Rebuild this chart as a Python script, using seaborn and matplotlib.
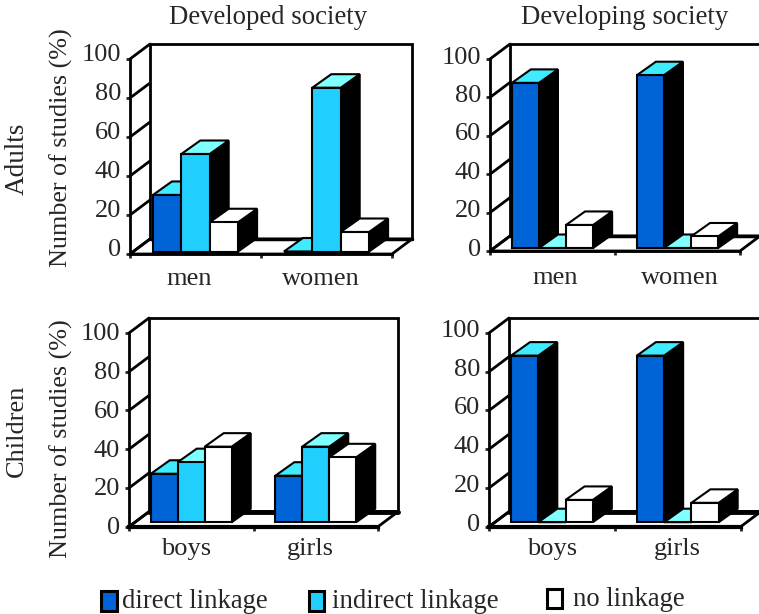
import pandas as pd
import matplotlib
matplotlib.use('Agg')
import matplotlib.pyplot as plt
from matplotlib.patches import Polygon, Rectangle
from matplotlib.transforms import ScaledTranslation
import seaborn as sns

# values (%)
linkage_types = ['direct linkage', 'indirect linkage', 'no linkage']
adult_groups = ['men', 'women']
child_groups = ['boys', 'girls']

developed_adults_direct = [29, 0]
developed_adults_indirect = [50, 84]
developed_adults_none = [15, 10]

developing_adults_direct = [86, 90]
developing_adults_indirect = [0, 0]
developing_adults_none = [12, 6]

developed_children_direct = [25, 24]
developed_children_indirect = [31, 39]
developed_children_none = [39, 33.5]

developing_children_direct = [86, 86]
developing_children_indirect = [0, 0]
developing_children_none = [11.5, 10]

y_ticks = [0, 20, 40, 60, 80, 100]

sns.set_style('white')
plt.rcParams['font.family'] = ['Liberation Serif', 'DejaVu Serif']

W, H = 759, 614
fig = plt.figure(figsize=(W / 100, H / 100), dpi=100)

colors = dict(zip(linkage_types, ['#0063D6', '#21CFFF', '#FFFFFF']))
top_colors = dict(zip(linkage_types, ['#40EAFF', '#80FFFF', '#FFFFFF']))
LW = 1.5
FS = 19


def px(x, y):  # pixel from the top left -> figure fraction
    return x / W, 1 - y / H


def draw_panel(frame, groups, direct, indirect, none, shifts, ylabel_at=None):
    left, right, bottom, top = frame
    label_dx, label_dy, ytick_dy, inset_px, base_lw = shifts
    ax = fig.add_axes([left / W, 1 - bottom / H, (right - left) / W, (bottom - top) / H])
    ax.patch.set_alpha(0)

    df = pd.DataFrame({
        'group': groups * 3,
        'linkage': [linkage_types[0]] * 2 + [linkage_types[1]] * 2 + [linkage_types[2]] * 2,
        'value': direct + indirect + none,
    })
    sns.barplot(data=df, x='group', y='value', hue='linkage', hue_order=linkage_types,
                palette=colors, width=0.65, gap=0, saturation=1, legend=False,
                edgecolor='black', linewidth=LW, ax=ax)
    ax.set_xlim(-0.5, 1.5)
    ax.set_ylim(0, 100)
    bars = sorted(ax.patches, key=lambda p: p.get_x())

    # pixel -> data unit
    ux = 2 / (right - left)
    uy = 100 / (bottom - top)
    wall_dx, wall_dy = 20 * ux, 15 * uy
    bar_dx, bar_dy = 19 * ux, 13.5 * uy
    inset = inset_px * uy

    # back wall, floor, and the slanted tick lines
    ax.add_patch(Rectangle((-0.5 + wall_dx, wall_dy), 2, 100, fc='white', ec='black',
                           lw=2, zorder=0.5, clip_on=False))
    ax.add_patch(Polygon([(-0.5, 0), (1.5, 0), (1.5 + wall_dx, wall_dy), (-0.5 + wall_dx, wall_dy)],
                         fc='white', ec='black', lw=2, zorder=0.6, clip_on=False))
    ax.plot([-0.5 + wall_dx, 1.5 + wall_dx], [wall_dy, wall_dy], color='black', lw=base_lw + 0.5,
            zorder=0.65, clip_on=False)
    for t in y_ticks:
        ax.plot([-0.5, -0.5 + wall_dx], [t, t + wall_dy], color='black', lw=2,
                zorder=0.7, clip_on=False, solid_capstyle='round')

    # extrude the bars, left to right so the later ones cover the earlier
    names = linkage_types * 2
    for i, bar in enumerate(bars):
        x0 = bar.get_x()
        x1 = x0 + bar.get_width()
        y1 = inset + bar.get_height()
        bar.set_y(inset)
        z = 3 + i
        ax.add_patch(Polygon([(x1, inset), (x1, y1), (x1 + bar_dx, y1 + bar_dy), (x1 + bar_dx, inset + bar_dy)],
                             fc='black', ec='black', lw=LW, zorder=z, clip_on=False))
        ax.add_patch(Polygon([(x0, y1), (x1, y1), (x1 + bar_dx, y1 + bar_dy), (x0 + bar_dx, y1 + bar_dy)],
                             fc=top_colors[names[i]], ec='black', lw=LW, zorder=z + 0.1, clip_on=False))
        bar.set_zorder(z + 0.2)
        bar.set_clip_on(False)

    sns.despine(ax=ax, top=True, right=True)
    ax.spines['left'].set_linewidth(2)
    ax.spines['left'].set_color('black')
    ax.spines['bottom'].set_linewidth(base_lw)
    ax.spines['bottom'].set_color('black')
    ax.spines['bottom'].set_zorder(50)

    ax.set_yticks(y_ticks)
    ax.tick_params(axis='y', direction='out', length=3, width=2, pad=3.5, labelsize=FS, left=True)
    for lab in ax.get_yticklabels():
        lab.set_transform(lab.get_transform() + ScaledTranslation(0, ytick_dy / 100, fig.dpi_scale_trans))

    ax.set_xticks([-0.5, 0.5, 1.5], minor=True)
    ax.tick_params(axis='x', which='minor', direction='out', length=3, width=2, bottom=True)
    ax.tick_params(axis='x', which='major', length=0, pad=8, labelsize=FS)
    for lab in ax.get_xticklabels():
        lab.set_transform(lab.get_transform() + ScaledTranslation(label_dx / 100, label_dy / 100, fig.dpi_scale_trans))

    ax.set_xlabel('')
    if ylabel_at is None:
        ax.set_ylabel('')
    else:
        ax.set_ylabel('Number of studies (%)', fontsize=18.8)
        ax.yaxis.set_label_coords(*px(*ylabel_at), transform=fig.transFigure)
    return ax


# shifts = x label dx, x label dy, y tick label dy, bar inset, base line width (all in px except lw)
draw_panel((130, 392, 254, 59), adult_groups, developed_adults_direct, developed_adults_indirect,
           developed_adults_none, (-6, -3, 6.5, 2.5, 2), (73, 148))
draw_panel((490, 740, 251, 59), adult_groups, developing_adults_direct, developing_adults_indirect,
           developing_adults_none, (2.5, -5, 4, 3, 2))
draw_panel((129, 378, 526.7, 333), child_groups, developed_children_direct, developed_children_indirect,
           developed_children_none, (-5, 0, 1, 4.5, 3), (73, 439))
draw_panel((489, 740.7, 526.7, 333), child_groups, developing_children_direct, developing_children_indirect,
           developing_children_none, (0, 0, 4.5, 4.5, 3))

# titles / row labels
fig.text(*px(268.5, 17), 'Developed society', ha='center', va='center', fontsize=19.3)
fig.text(*px(625, 17), 'Developing society', ha='center', va='center', fontsize=19.3)
fig.text(*px(17, 159), 'Adults', ha='center', va='center', rotation=90, fontsize=19.5)
fig.text(*px(17, 431), 'Children', ha='center', va='center', rotation=90, fontsize=19)

# legend
legend_items = [(100.5, 590.5, 16, 20, 122, 601), (308.5, 590.5, 15, 20, 332, 601), (546.5, 588.5, 15, 19, 573, 600)]
for (hx, hy, hw, hh, tx, ty), name in zip(legend_items, linkage_types):
    fx, fy = px(hx, hy + hh)
    fig.add_artist(Rectangle((fx, fy), hw / W, hh / H, transform=fig.transFigure,
                             fc=colors[name], ec='black', lw=2.2))
    fig.text(*px(tx, ty), name, ha='left', va='center', fontsize=19.2)

fig.savefig('out.png', dpi=100)
